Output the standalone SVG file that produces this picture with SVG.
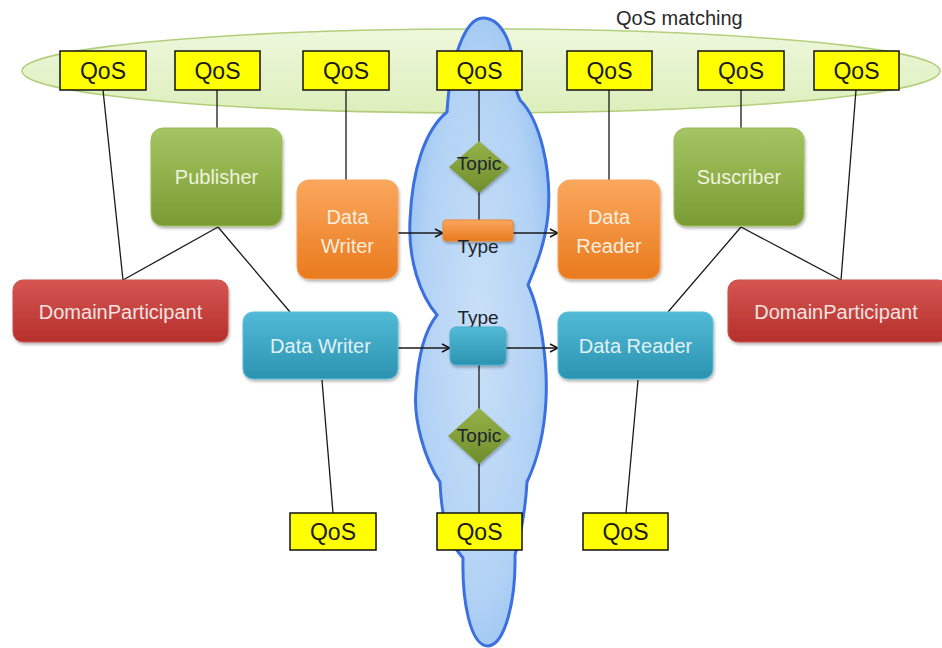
<svg xmlns="http://www.w3.org/2000/svg" width="942" height="648" viewBox="0 0 942 648">
  <defs>
    <linearGradient id="gGreen" x1="0" y1="0" x2="0" y2="1">
      <stop offset="0" stop-color="#a4c562"/>
      <stop offset="1" stop-color="#7a9b33"/>
    </linearGradient>
    <linearGradient id="gOrange" x1="0" y1="0" x2="0" y2="1">
      <stop offset="0" stop-color="#fba75e"/>
      <stop offset="1" stop-color="#e97a1d"/>
    </linearGradient>
    <linearGradient id="gRed" x1="0" y1="0" x2="0" y2="1">
      <stop offset="0" stop-color="#d65552"/>
      <stop offset="1" stop-color="#b5302c"/>
    </linearGradient>
    <linearGradient id="gBlue" x1="0" y1="0" x2="0" y2="1">
      <stop offset="0" stop-color="#52bad6"/>
      <stop offset="1" stop-color="#2b93b1"/>
    </linearGradient>
    <linearGradient id="gDiamond" x1="0" y1="0" x2="0" y2="1">
      <stop offset="0" stop-color="#95b24a"/>
      <stop offset="1" stop-color="#6f8d2b"/>
    </linearGradient>
    <linearGradient id="gEllipse" x1="0" y1="0" x2="0" y2="1">
      <stop offset="0" stop-color="#eef7dc"/>
      <stop offset="1" stop-color="#dcefbb"/>
    </linearGradient>
    <radialGradient id="gCloud" cx="0.5" cy="0.5" r="0.6">
      <stop offset="0" stop-color="#c9e0f8"/>
      <stop offset="0.7" stop-color="#b2d2f5"/>
      <stop offset="1" stop-color="#93bff0"/>
    </radialGradient>
    <filter id="shadow" x="-10%" y="-10%" width="125%" height="130%">
      <feDropShadow dx="1" dy="2" stdDeviation="1.8" flood-color="#000" flood-opacity="0.3"/>
    </filter>
    <marker id="arrow" viewBox="0 0 10 10" refX="9" refY="5" markerWidth="10" markerHeight="10" markerUnits="userSpaceOnUse" orient="auto">
      <path d="M1,1 L9,5 L1,9" fill="none" stroke="#111" stroke-width="1.4"/>
    </marker>
  </defs>
  <style>
    .qos rect { fill: #ffff00; stroke: #111; stroke-width: 1.5; }
    .qos text { font-family: "Liberation Sans", Arial, sans-serif; font-size: 23px; fill: #1a1a1a; text-anchor: middle; }
    .node rect { filter: url(#shadow); }
    .label { font-family: "Liberation Sans", Arial, sans-serif; font-size: 20px; text-anchor: middle; }
    .dark { font-family: "Liberation Sans", Arial, sans-serif; font-size: 19px; fill: #1c2430; text-anchor: middle; }
    .wire { stroke: #1a1a1a; stroke-width: 1.3; fill: none; }
    .arrow { stroke: #1a1a1a; stroke-width: 1.3; fill: none; marker-end: url(#arrow); }
  </style>

  <!-- QoS matching area -->
  <g id="qos-matching">
    <ellipse cx="481" cy="71" rx="459" ry="42" fill="url(#gEllipse)" stroke="#b3cf7c" stroke-width="1.5"/>
    <text x="616" y="25" font-family="Liberation Sans, Arial, sans-serif" font-size="20" fill="#2a2a2a">QoS matching</text>
  </g>

  <!-- Global data space cloud -->
  <g id="cloud">
    <path d="M 483 18
             C 500 18, 512 40, 514 70
             C 515 85, 516 92, 520 100
             C 540 120, 552 170, 548 215
             C 545 245, 535 268, 528 285
             C 540 310, 548 360, 546 400
             C 544 440, 535 465, 527 482
             C 526 500, 522 530, 515 555
             C 516 600, 505 645, 488 646
             C 470 646, 462 600, 463 558
             C 452 545, 442 530, 440 482
             C 425 460, 413 420, 416 390
             C 418 355, 425 330, 437 315
             C 420 295, 408 260, 410 220
             C 412 170, 425 130, 447 112
             C 450 60, 465 18, 483 18 Z"
          fill="url(#gCloud)" stroke="#3c6fe0" stroke-width="3"/>
  </g>

  <!-- Connectors -->
  <g id="connectors">
    <line class="wire" x1="103" y1="90" x2="123" y2="280"/>
    <line class="wire" x1="217" y1="90" x2="217" y2="128"/>
    <line class="wire" x1="218" y1="227" x2="123" y2="280"/>
    <line class="wire" x1="218" y1="227" x2="290" y2="312"/>
    <line class="wire" x1="346" y1="90" x2="346" y2="180"/>
    <line class="wire" x1="479" y1="90" x2="479" y2="220"/>
    <line class="wire" x1="609" y1="90" x2="609" y2="180"/>
    <line class="wire" x1="741" y1="90" x2="741" y2="128"/>
    <line class="wire" x1="856" y1="90" x2="841" y2="280"/>
    <line class="wire" x1="741" y1="227" x2="841" y2="280"/>
    <line class="wire" x1="741" y1="227" x2="668" y2="312"/>
    <line class="wire" x1="479" y1="365" x2="479" y2="513"/>
    <line class="wire" x1="322" y1="380" x2="333" y2="513"/>
    <line class="wire" x1="638" y1="380" x2="626" y2="513"/>
    <line class="arrow" x1="398" y1="233" x2="443" y2="233"/>
    <line class="arrow" x1="513" y1="233" x2="558" y2="233"/>
    <line class="arrow" x1="398" y1="348" x2="450" y2="348"/>
    <line class="arrow" x1="506" y1="348" x2="558" y2="348"/>
  </g>

  <!-- QoS policies -->
  <g id="qos-1" class="qos"><rect x="60" y="51" width="86" height="39"/><text x="103" y="79">QoS</text></g>
  <g id="qos-2" class="qos"><rect x="175" y="51" width="85" height="39"/><text x="217.5" y="79">QoS</text></g>
  <g id="qos-3" class="qos"><rect x="303" y="51" width="86" height="39"/><text x="346" y="79">QoS</text></g>
  <g id="qos-4" class="qos"><rect x="437" y="51" width="85" height="39"/><text x="479.5" y="79">QoS</text></g>
  <g id="qos-5" class="qos"><rect x="567" y="51" width="85" height="39"/><text x="609.5" y="79">QoS</text></g>
  <g id="qos-6" class="qos"><rect x="698" y="51" width="86" height="39"/><text x="741" y="79">QoS</text></g>
  <g id="qos-7" class="qos"><rect x="814" y="51" width="85" height="39"/><text x="856.5" y="79">QoS</text></g>
  <g id="qos-8" class="qos"><rect x="290" y="513" width="86" height="37"/><text x="333" y="540">QoS</text></g>
  <g id="qos-9" class="qos"><rect x="437" y="513" width="85" height="37"/><text x="479.5" y="540">QoS</text></g>
  <g id="qos-10" class="qos"><rect x="583" y="513" width="85" height="37"/><text x="625.5" y="540">QoS</text></g>

  <!-- Entities -->
  <g id="publisher" class="node">
    <rect x="151" y="128" width="131" height="98" rx="12" fill="url(#gGreen)" stroke="#9dbd5c" stroke-width="1"/>
    <text class="label" x="216.5" y="184" fill="#eef3df">Publisher</text>
  </g>
  <g id="subscriber" class="node">
    <rect x="674" y="128" width="130" height="98" rx="12" fill="url(#gGreen)" stroke="#9dbd5c" stroke-width="1"/>
    <text class="label" x="739" y="184" fill="#eef3df">Suscriber</text>
  </g>
  <g id="participant-left" class="node">
    <rect x="13" y="280" width="215" height="62" rx="10" fill="url(#gRed)" stroke="#c9504c" stroke-width="1"/>
    <text class="label" x="120.5" y="318.5" fill="#f6e2e1" font-size="21">DomainParticipant</text>
  </g>
  <g id="participant-right" class="node">
    <rect x="728" y="280" width="220" height="62" rx="10" fill="url(#gRed)" stroke="#c9504c" stroke-width="1"/>
    <text class="label" x="836" y="318.5" fill="#f6e2e1" font-size="21">DomainParticipant</text>
  </g>
  <g id="writer-orange" class="node">
    <rect x="297" y="180" width="101" height="99" rx="12" fill="url(#gOrange)" stroke="#f7a560" stroke-width="1"/>
    <text class="label" x="347.5" y="224" fill="#fdeedd">Data</text>
    <text class="label" x="347.5" y="253" fill="#fdeedd">Writer</text>
  </g>
  <g id="reader-orange" class="node">
    <rect x="558" y="180" width="102" height="99" rx="12" fill="url(#gOrange)" stroke="#f7a560" stroke-width="1"/>
    <text class="label" x="609" y="224" fill="#fdeedd">Data</text>
    <text class="label" x="609" y="253" fill="#fdeedd">Reader</text>
  </g>
  <g id="writer-blue" class="node">
    <rect x="243" y="312" width="155" height="67" rx="10" fill="url(#gBlue)" stroke="#5bc0da" stroke-width="1"/>
    <text class="label" x="320.5" y="352.5" fill="#e0f2f7">Data Writer</text>
  </g>
  <g id="reader-blue" class="node">
    <rect x="558" y="312" width="155" height="67" rx="10" fill="url(#gBlue)" stroke="#5bc0da" stroke-width="1"/>
    <text class="label" x="635.5" y="352.5" fill="#e0f2f7">Data Reader</text>
  </g>

  <!-- Topics and types inside the data space -->
  <g id="topic-top" class="node">
    <polygon points="479,141 509,167 479,193 449,167" fill="url(#gDiamond)" filter="url(#shadow)"/>
    <text class="dark" x="479" y="170">Topic</text>
  </g>
  <g id="type-orange" class="node">
    <rect x="443" y="220" width="70" height="21" rx="3" fill="url(#gOrange)" stroke="#e9872f" stroke-width="1"/>
    <text class="dark" x="478" y="253">Type</text>
  </g>
  <g id="type-blue" class="node">
    <text class="dark" x="478" y="324">Type</text>
    <rect x="450" y="327" width="56" height="38" rx="6" fill="url(#gBlue)" stroke="#47aecb" stroke-width="1"/>
  </g>
  <g id="topic-bottom" class="node">
    <polygon points="479,408 510,436 479,464 448,436" fill="url(#gDiamond)" filter="url(#shadow)"/>
    <text class="dark" x="479" y="442">Topic</text>
  </g>
</svg>
